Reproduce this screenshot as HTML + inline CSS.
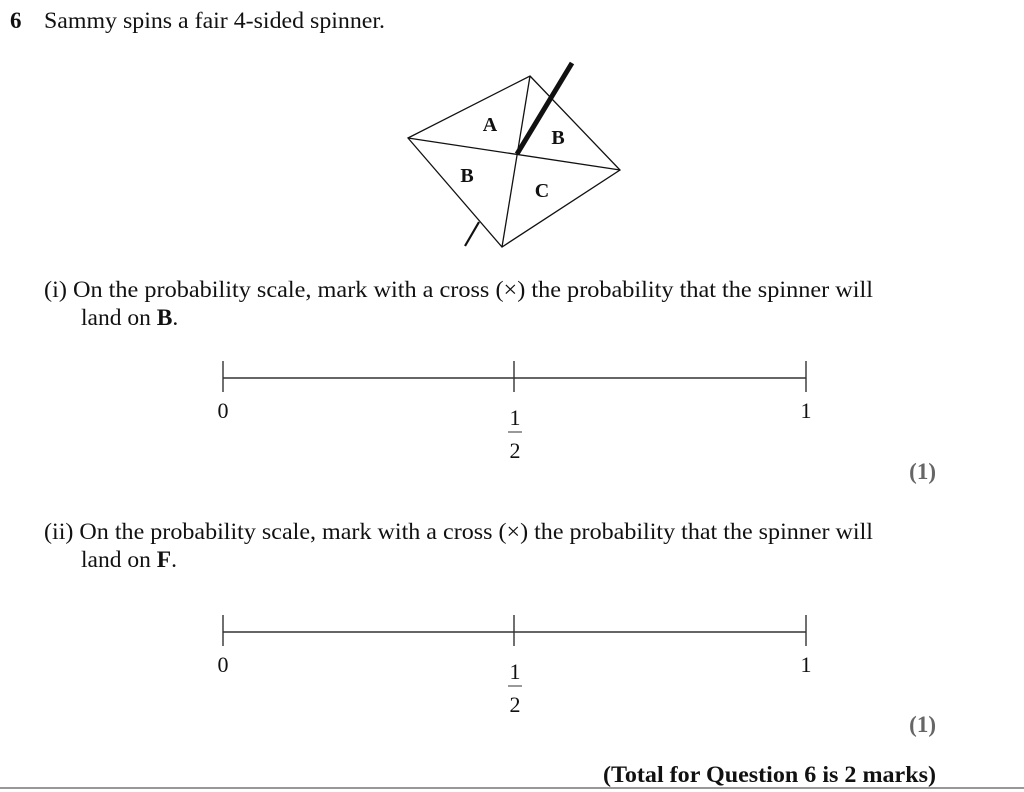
<!DOCTYPE html>
<html><head><style>
html,body{margin:0;padding:0;background:#fff;}
svg{display:block;}
text{font-family:"Liberation Serif",serif;fill:#111;}
</style></head><body>
<svg width="1024" height="792" viewBox="0 0 1024 792" xmlns="http://www.w3.org/2000/svg">
<text x="10" y="28" font-size="23" font-weight="bold">6</text>
<text x="44" y="28" font-size="23.5" textLength="341" lengthAdjust="spacingAndGlyphs">Sammy spins a fair 4-sided spinner.</text>

<g stroke="#111" stroke-width="1.3" fill="#fff">
<polygon points="530,76 620,170 502,247 408,138"/>
<line x1="408" y1="138" x2="620" y2="170"/>
<line x1="530" y1="76" x2="502" y2="247"/>
</g>
<line x1="479" y1="222" x2="465" y2="246" stroke="#111" stroke-width="2.2"/>
<line x1="517" y1="154" x2="572" y2="63" stroke="#111" stroke-width="5"/>
<g font-size="20" font-weight="bold" text-anchor="middle">
<text x="490" y="131">A</text>
<text x="558" y="144">B</text>
<text x="467" y="182">B</text>
<text x="542" y="197">C</text>
</g>

<text x="44" y="297" font-size="23.5" textLength="829" lengthAdjust="spacingAndGlyphs">(i) On the probability scale, mark with a cross (×) the probability that the spinner will</text>
<text x="81" y="325" font-size="23.5">land on <tspan font-weight="bold">B</tspan>.</text>

<g stroke="#333" stroke-width="1.4">
<line x1="223" y1="378" x2="806" y2="378"/>
<line x1="223" y1="361" x2="223" y2="392"/>
<line x1="514" y1="361" x2="514" y2="392"/>
<line x1="806" y1="361" x2="806" y2="392"/>
<line x1="508" y1="432" x2="522" y2="432" stroke-width="1"/>
</g>
<g font-size="22" text-anchor="middle">
<text x="223" y="418">0</text>
<text x="515" y="425">1</text>
<text x="515" y="458">2</text>
<text x="806" y="418">1</text>
</g>
<text x="936" y="479" font-size="23" font-weight="bold" text-anchor="end" style="fill:#666">(1)</text>

<text x="44" y="539" font-size="23.5" textLength="829" lengthAdjust="spacingAndGlyphs">(ii) On the probability scale, mark with a cross (×) the probability that the spinner will</text>
<text x="81" y="567" font-size="23.5">land on <tspan font-weight="bold">F</tspan>.</text>

<g stroke="#333" stroke-width="1.4">
<line x1="223" y1="632" x2="806" y2="632"/>
<line x1="223" y1="615" x2="223" y2="646"/>
<line x1="514" y1="615" x2="514" y2="646"/>
<line x1="806" y1="615" x2="806" y2="646"/>
<line x1="508" y1="686" x2="522" y2="686" stroke-width="1"/>
</g>
<g font-size="22" text-anchor="middle">
<text x="223" y="672">0</text>
<text x="515" y="679">1</text>
<text x="515" y="712">2</text>
<text x="806" y="672">1</text>
</g>
<text x="936" y="732" font-size="23" font-weight="bold" text-anchor="end" style="fill:#666">(1)</text>

<text x="936" y="782" font-size="23" font-weight="bold" text-anchor="end" textLength="333" lengthAdjust="spacingAndGlyphs">(Total for Question 6 is 2 marks)</text>
<line x1="0" y1="788" x2="1024" y2="788" stroke="#777" stroke-width="1.5"/>
</svg>
</body></html>
